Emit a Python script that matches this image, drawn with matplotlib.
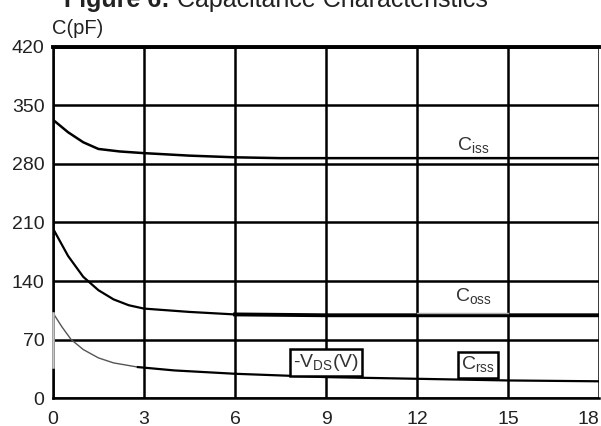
import numpy as np
import matplotlib.pyplot as plt

# Capacitance vs -VDS
vds_iss = [0, 0.5, 1.0, 1.5, 2.2, 3, 4.5, 6, 7.5, 9, 12, 15, 18]
ciss = [333, 318, 306, 298, 295, 293, 290, 288, 287, 287, 287, 287, 287]

vds_oss = [0, 0.5, 1.0, 1.5, 2.0, 2.5, 3, 4.5, 6, 9, 12, 15, 18]
coss = [203, 170, 145, 129, 118, 111, 107, 103, 100, 99, 99, 99, 99]

vds_rss_a = [0, 0.3, 0.6, 1.0, 1.5, 2.0, 2.8]
crss_a = [102, 85, 70, 58, 48, 42, 37]
vds_rss_b = [2.8, 4, 6, 9, 12, 15, 18]
crss_b = [37, 33, 29, 25, 23, 21, 20]

xticks = [0, 3, 6, 9, 12, 15, 18]
yticks = [0, 70, 140, 210, 280, 350, 420]

plt.rcParams['font.family'] = ['Liberation Sans', 'DejaVu Sans']
plt.rcParams['mathtext.fontset'] = 'custom'
plt.rcParams['mathtext.rm'] = 'Liberation Sans'

fig = plt.figure(figsize=(6.01, 4.26), dpi=100)
ax = fig.add_axes([0.088, 0.0657, 0.909, 0.824])

ax.plot(vds_iss, ciss, color='black', lw=1.8)
ax.plot(vds_oss[:9], coss[:9], color='black', lw=1.6)
ax.plot(vds_oss[8:], coss[8:], color='black', lw=2.8)
ax.plot(vds_rss_a, crss_a, color='#555555', lw=1.0)
ax.plot(vds_rss_b, crss_b, color='black', lw=1.6)
# light segment on the y axis where the thin Crss trace starts
ax.plot([0, 0], [crss_a[-1], crss_a[0]], color='#c8c8c8', lw=1.8, zorder=5, clip_on=False)
# faint lower edge of the Coss label box
ax.plot([12, 15], [102, 102], color='#aaaaaa', lw=1.0)

ax.set_xlim(0, 18)
ax.set_ylim(0, 420)
ax.set_xticks(xticks)
ax.set_yticks(yticks)
ax.tick_params(length=0, labelsize=14, colors='#222222')
ax.tick_params(axis='y', pad=6)
ax.tick_params(axis='x', pad=9)
ax.get_xticklabels()[-1].set_horizontalalignment('right')
ax.grid(True, color='black', lw=1.8)
for s in ax.spines.values():
    s.set_color('black')
    s.set_linewidth(1.8)
ax.spines['top'].set_linewidth(2.8)
ax.spines['right'].set_visible(False)

lab = dict(fontsize=14, ha='center', va='center', color='#333333')
ax.text(13.85, 302, 'C$_{\\mathregular{iss}}$', **lab)
ax.text(13.85, 121, 'C$_{\\mathregular{oss}}$', **lab)
ax.text(14.0, 40, 'C$_{\\mathregular{rss}}$',
        bbox=dict(boxstyle='square,pad=0.15', fc='white', ec='black', lw=1.8), **lab)
ax.text(9.0, 42, '-V$_{\\mathregular{DS}}$(V)',
        bbox=dict(boxstyle='square,pad=0.15', fc='white', ec='black', lw=1.8), **lab)

fig.text(0.087, 0.91, 'C(pF)', fontsize=14.5, color='#222222', ha='left', va='bottom')
t1 = fig.text(0.107, 0.9836, 'Figure 6:', fontsize=18, fontweight='bold',
              color='#222222', ha='left', va='baseline')
fig.text(0, 0, ' Capacitance Characteristics', fontsize=18, color='#222222',
         ha='left', va='baseline', transform=None)
fig.canvas.draw()
bb = t1.get_window_extent()
x0, y0 = fig.transFigure.transform((0.107, 0.9836))
fig.texts[-1].set_position((bb.x1, y0))

fig.savefig('out.png', dpi=100)
